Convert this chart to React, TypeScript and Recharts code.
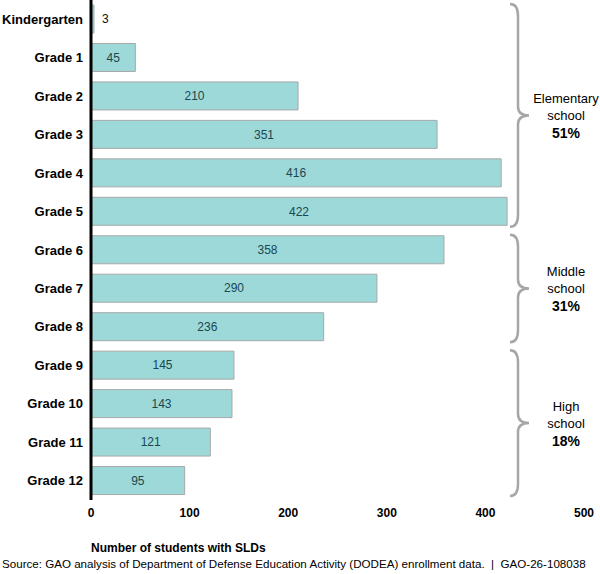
import React from "react";
import { BarChart, Bar, XAxis, YAxis, LabelList } from "recharts";

const grades = ["Kindergarten", "Grade 1", "Grade 2", "Grade 3", "Grade 4", "Grade 5", "Grade 6", "Grade 7", "Grade 8", "Grade 9", "Grade 10", "Grade 11", "Grade 12"];
const students = [3, 45, 210, 351, 416, 422, 358, 290, 236, 145, 143, 121, 95];
const xTicks = [0, 100, 200, 300, 400, 500];
const groupNames = [["Elementary", "school"], ["Middle", "school"], ["High", "school"]];
const groupShares = ["51%", "31%", "18%"];
const groupStart = [0, 6, 9];
const groupEnd = [6, 9, 13];
const axisTitle = "Number of students with SLDs";
const sourceText = "Source: GAO analysis of Department of Defense Education Activity (DODEA) enrollment data.\u00a0\u00a0|\u00a0\u00a0GAO-26-108038";

const data = grades.map((g, i) => ({ grade: g, students: students[i] }));

const W = 600;
const H = 574;
const M = { top: 0, right: 16, bottom: 44, left: 0 };
const YW = 91;
const XH = 30;
const plotTop = M.top;
const plotH = H - M.top - M.bottom - XH;
const band = plotH / grades.length;
const FONT = "'Liberation Sans', Arial, Helvetica, sans-serif";

const YTick = (props: any) => {
  const { x, y, payload } = props;
  return (
    <text x={x} y={y} dy="0.35em" textAnchor="end" fontFamily={FONT} fontSize={13} fontWeight="bold" fill="#000">
      {payload.value}
    </text>
  );
};

const BarLabel = (props: any) => {
  const { x, y, width, height, value } = props;
  const small = value < 20;
  return (
    <text
      x={small ? x + width + 8 : x + width / 2}
      y={y + height / 2}
      dy="0.35em"
      textAnchor={small ? "start" : "middle"}
      fontFamily={FONT}
      fontSize={12}
      fill={small ? "#111" : "#1a4750"}
    >
      {value}
    </text>
  );
};

function bracePath(y1: number, y2: number) {
  const x0 = 510;
  const xb = 518;
  const xt = 529;
  const ym = (y1 + y2) / 2;
  return `M ${x0} ${y1} Q ${xb} ${y1} ${xb} ${y1 + 12} L ${xb} ${ym - 9} Q ${xb} ${ym} ${xt} ${ym} Q ${xb} ${ym} ${xb} ${ym + 9} L ${xb} ${y2 - 12} Q ${xb} ${y2} ${x0} ${y2}`;
}

export default function App() {
  return (
    <div style={{ position: "absolute", left: 0, top: 0, width: W, height: H, background: "#fff" }}>
      <BarChart width={W} height={H} data={data} layout="vertical" margin={M} barCategoryGap={0}>
        <XAxis
          type="number"
          domain={[0, 500]}
          ticks={xTicks}
          axisLine={false}
          tickLine={false}
          height={XH}
          tick={{ fontFamily: FONT, fontSize: 12, fontWeight: "bold", fill: "#000" }}
        />
        <YAxis
          type="category"
          dataKey="grade"
          width={YW}
          axisLine={{ stroke: "#000", strokeWidth: 3 }}
          tickLine={false}
          tick={<YTick />}
          interval={0}
        />
        <Bar dataKey="students" barSize={28} fill="#9dd9d9" stroke="#a8a8a8" strokeWidth={1} isAnimationActive={false}>
          <LabelList dataKey="students" content={<BarLabel />} />
        </Bar>
      </BarChart>
      <svg width={W} height={H} style={{ position: "absolute", left: 0, top: 0, pointerEvents: "none" }}>
        {groupStart.map((s, i) => {
          const y1 = plotTop + s * band + 4;
          const y2 = plotTop + groupEnd[i] * band - 4;
          const ym = (y1 + y2) / 2;
          return (
            <g key={i}>
              <path d={bracePath(y1, y2)} fill="none" stroke="#a6a6a6" strokeWidth={2.5} />
              <text x={566} y={ym - 17} dy="0.35em" textAnchor="middle" fontFamily={FONT} fontSize={13} fill="#000">{groupNames[i][0]}</text>
              <text x={566} y={ym} dy="0.35em" textAnchor="middle" fontFamily={FONT} fontSize={13} fill="#000">{groupNames[i][1]}</text>
              <text x={566} y={ym + 18} dy="0.35em" textAnchor="middle" fontFamily={FONT} fontSize={14} fontWeight="bold" fill="#000">{groupShares[i]}</text>
            </g>
          );
        })}
        <text x={91} y={548} dy="0.35em" fontFamily={FONT} fontSize={12} fontWeight="bold" fill="#000">{axisTitle}</text>
        <text x={2} y={564} dy="0.35em" fontFamily={FONT} fontSize={11.6} fill="#000">{sourceText}</text>
      </svg>
    </div>
  );
}
